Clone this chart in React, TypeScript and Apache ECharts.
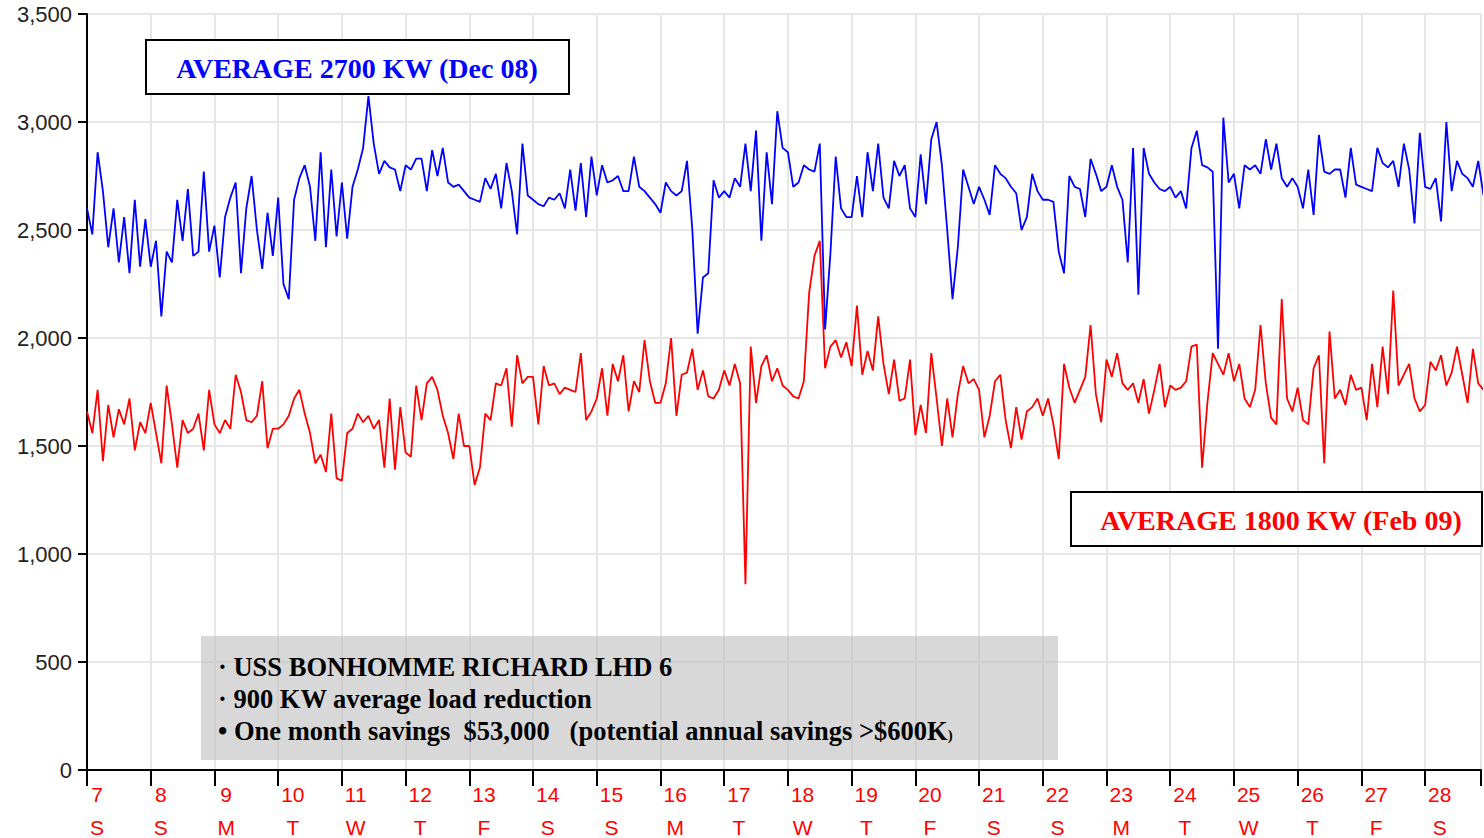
import React, { useEffect, useRef } from 'react';
import * as echarts from 'echarts';

// Day numbers on the x axis and their weekday letters
const days = [7, 8, 9, 10, 11, 12, 13, 14, 15, 16, 17, 18, 19, 20, 21, 22, 23, 24, 25, 26, 27, 28];
const weekdays = ['S', 'S', 'M', 'T', 'W', 'T', 'F', 'S', 'S', 'M', 'T', 'W', 'T', 'F', 'S', 'S', 'M', 'T', 'W', 'T', 'F', 'S'];
const yTicks = [0, 500, 1000, 1500, 2000, 2500, 3000, 3500];
const readingsPerDay = 12; // one reading every 2 hours

// Load in KW, December 2008 (blue), one row per day
const dec08Load = [
  2600, 2480, 2860, 2680, 2420, 2600, 2350, 2560, 2300, 2640, 2330, 2550,
  2330, 2450, 2100, 2400, 2350, 2640, 2450, 2690, 2380, 2400, 2770, 2400,
  2520, 2280, 2560, 2650, 2720, 2300, 2600, 2750, 2500, 2320, 2580, 2380,
  2650, 2250, 2180, 2640, 2740, 2800, 2700, 2450, 2860, 2420, 2780, 2470,
  2720, 2460, 2700, 2780, 2880, 3120, 2900, 2760, 2820, 2790, 2780, 2680,
  2800, 2780, 2830, 2830, 2680, 2870, 2750, 2880, 2720, 2700, 2710, 2680,
  2650, 2640, 2630, 2740, 2690, 2760, 2600, 2810, 2680, 2480, 2900, 2660,
  2640, 2620, 2610, 2650, 2640, 2670, 2600, 2780, 2590, 2810, 2560, 2840,
  2660, 2800, 2720, 2730, 2750, 2680, 2680, 2840, 2700, 2680, 2650, 2620,
  2580, 2720, 2680, 2660, 2680, 2820, 2500, 2020, 2280, 2300, 2730, 2650,
  2680, 2650, 2740, 2700, 2900, 2680, 2960, 2450, 2860, 2620, 3050, 2880,
  2860, 2700, 2720, 2800, 2780, 2770, 2900, 2040, 2390, 2840, 2600, 2560,
  2560, 2750, 2560, 2860, 2680, 2900, 2650, 2600, 2820, 2750, 2800, 2600,
  2560, 2850, 2620, 2920, 3000, 2800, 2500, 2180, 2420, 2780, 2700, 2620,
  2700, 2640, 2570, 2800, 2760, 2740, 2700, 2670, 2500, 2560, 2760, 2680,
  2640, 2640, 2630, 2400, 2300, 2750, 2700, 2690, 2560, 2830, 2760, 2680,
  2700, 2800, 2700, 2640, 2350, 2880, 2200, 2880, 2760, 2720, 2690, 2680,
  2700, 2650, 2680, 2600, 2880, 2960, 2800, 2790, 2770, 1950, 3020, 2720,
  2760, 2600, 2800, 2780, 2800, 2760, 2920, 2780, 2900, 2740, 2700, 2740,
  2700, 2600, 2780, 2570, 2940, 2770, 2760, 2780, 2780, 2650, 2880, 2710,
  2700, 2690, 2680, 2880, 2810, 2790, 2820, 2700, 2900, 2780, 2530, 2950,
  2700, 2690, 2740, 2540, 3000, 2680, 2820, 2760, 2740, 2700, 2820, 2660,
];

// Load in KW, February 2009 (red), one row per day
const feb09Load = [
  1660, 1560, 1760, 1430, 1690, 1540, 1670, 1600, 1720, 1480, 1610, 1560,
  1700, 1560, 1420, 1780, 1600, 1400, 1620, 1560, 1580, 1650, 1480, 1760,
  1600, 1560, 1620, 1580, 1830, 1750, 1620, 1610, 1640, 1800, 1490, 1580,
  1580, 1600, 1640, 1720, 1760, 1650, 1560, 1420, 1460, 1380, 1650, 1350,
  1340, 1560, 1580, 1650, 1610, 1640, 1580, 1620, 1400, 1720, 1390, 1680,
  1470, 1450, 1780, 1620, 1790, 1820, 1760, 1640, 1560, 1440, 1650, 1500,
  1500, 1320, 1400, 1650, 1620, 1790, 1780, 1860, 1590, 1920, 1790, 1820,
  1820, 1600, 1870, 1780, 1790, 1740, 1770, 1760, 1750, 1930, 1620, 1660,
  1720, 1860, 1640, 1880, 1800, 1920, 1660, 1800, 1750, 1990, 1800, 1700,
  1700, 1790, 2000, 1640, 1830, 1840, 1950, 1760, 1850, 1730, 1720, 1760,
  1850, 1780, 1880, 1790, 860, 1960, 1700, 1870, 1920, 1800, 1860, 1780,
  1760, 1730, 1720, 1800, 2210, 2380, 2450, 1860, 1960, 1990, 1910, 1980,
  1870, 2150, 1830, 1940, 1850, 2100, 1880, 1740, 1900, 1710, 1720, 1900,
  1550, 1690, 1560, 1930, 1720, 1500, 1720, 1540, 1740, 1870, 1790, 1810,
  1760, 1540, 1640, 1800, 1830, 1620, 1490, 1680, 1530, 1660, 1680, 1720,
  1640, 1720, 1600, 1440, 1880, 1770, 1700, 1760, 1820, 2060, 1740, 1610,
  1900, 1820, 1930, 1790, 1760, 1790, 1700, 1810, 1650, 1760, 1880, 1680,
  1780, 1760, 1770, 1800, 1960, 1970, 1400, 1700, 1930, 1880, 1830, 1930,
  1800, 1880, 1720, 1680, 1760, 2060, 1790, 1630, 1600, 2180, 1720, 1660,
  1770, 1620, 1600, 1860, 1920, 1420, 2030, 1720, 1760, 1690, 1830, 1760,
  1770, 1620, 1880, 1680, 1960, 1740, 2220, 1780, 1830, 1880, 1720, 1660,
  1690, 1890, 1850, 1920, 1780, 1840, 1960, 1830, 1700, 1950, 1790, 1760,
];

const infoLines = [
  '\u00B7 USS BONHOMME RICHARD LHD 6',
  '\u00B7 900 KW average load reduction',
  '\u2022 One month savings  $53,000   (potential annual savings >$600K',
];

function toPairs(values: number[]) {
  return values.map((v, i) => [days[0] + i / readingsPerDay, v]);
}

export default function App() {
  const ref = useRef<HTMLDivElement>(null);
  useEffect(() => {
    if (!ref.current) return;
    const chart = echarts.init(ref.current, undefined, { renderer: 'svg' });
    const serif = '"Liberation Serif", "Times New Roman", serif';
    const sans = '"Liberation Sans", Arial, sans-serif';
    const infoStyle = { fill: '#000', fontSize: 26.5, fontWeight: 'bold', fontFamily: serif, align: 'left', verticalAlign: 'middle' };
    chart.setOption({
      animation: false,
      backgroundColor: '#ffffff',
      grid: { left: 87, right: 0, top: 14, bottom: 68 },
      xAxis: {
        type: 'value',
        min: days[0],
        max: 28.877,
        interval: 1,
        axisLine: { lineStyle: { color: '#000', width: 2 } },
        axisTick: { show: true, length: 16, lineStyle: { color: '#000', width: 2 } },
        splitLine: { show: true, lineStyle: { color: '#e6e6e6', width: 2 } },
        axisLabel: {
          margin: 8,
          align: 'left',
          padding: [0, 0, 0, 3],
          formatter: (v: number) => {
            const idx = days.indexOf(Math.round(v * 1000) / 1000);
            if (idx < 0) return '';
            return `{n|${days[idx]}}\n{w|${weekdays[idx]}}`;
          },
          rich: {
            n: { fontSize: 21, fontFamily: sans, color: '#ff0000', lineHeight: 33, align: 'center' },
            w: { fontSize: 21, fontFamily: sans, color: '#ff0000', lineHeight: 33, align: 'center' },
          },
        },
      },
      yAxis: {
        type: 'value',
        min: yTicks[0],
        max: yTicks[yTicks.length - 1],
        interval: 500,
        axisLine: { show: true, lineStyle: { color: '#000', width: 2 } },
        axisTick: { show: true, length: 9, lineStyle: { color: '#000', width: 2 } },
        splitLine: { show: true, lineStyle: { color: '#e6e6e6', width: 2 } },
        axisLabel: {
          color: '#222',
          fontSize: 22,
          fontFamily: sans,
          margin: 15,
          padding: [12, 0, 0, 0],
          formatter: (v: number) => v.toLocaleString('en-US'),
        },
      },
      series: [
        {
          name: 'Dec 08',
          type: 'line',
          data: toPairs(dec08Load),
          showSymbol: false,
          lineStyle: { color: '#0000ff', width: 1.8 },
          itemStyle: { color: '#0000ff' },
          z: 3,
        },
        {
          name: 'Feb 09',
          type: 'line',
          data: toPairs(feb09Load),
          showSymbol: false,
          lineStyle: { color: '#ff0000', width: 1.8 },
          itemStyle: { color: '#ff0000' },
          z: 2,
        },
      ],
      graphic: [
        {
          type: 'rect',
          z: 100,
          shape: { x: 146, y: 40, width: 423, height: 54 },
          style: { fill: '#ffffff', stroke: '#000000', lineWidth: 2 },
        },
        {
          type: 'text',
          z: 101,
          x: 357,
          y: 68,
          style: {
            text: 'AVERAGE 2700 KW (Dec 08)',
            fill: '#0000ff',
            fontSize: 28,
            fontWeight: 'bold',
            fontFamily: serif,
            align: 'center',
            verticalAlign: 'middle',
          },
        },
        {
          type: 'rect',
          z: 100,
          shape: { x: 1071, y: 492, width: 411, height: 54 },
          style: { fill: '#ffffff', stroke: '#000000', lineWidth: 2 },
        },
        {
          type: 'text',
          z: 101,
          x: 1281,
          y: 520,
          style: {
            text: 'AVERAGE 1800 KW (Feb 09)',
            fill: '#ff0000',
            fontSize: 28,
            fontWeight: 'bold',
            fontFamily: serif,
            align: 'center',
            verticalAlign: 'middle',
          },
        },
        {
          type: 'rect',
          z: 100,
          shape: { x: 201, y: 636, width: 857, height: 124 },
          style: { fill: 'rgba(190,190,190,0.6)', stroke: 'none' },
        },
        {
          type: 'text',
          z: 101,
          x: 218,
          y: 667,
          style: { ...infoStyle, text: infoLines[0] },
        },
        {
          type: 'text',
          z: 101,
          x: 218,
          y: 699,
          style: { ...infoStyle, text: infoLines[1] },
        },
        {
          type: 'text',
          z: 101,
          x: 218,
          y: 731,
          style: {
            text: `{a|${infoLines[2]}}{b|)}`,
            align: 'left',
            verticalAlign: 'middle',
            rich: {
              a: { fill: '#000', fontSize: 26.5, fontWeight: 'bold', fontFamily: serif },
              b: { fill: '#000', fontSize: 15, fontWeight: 'bold', fontFamily: serif, padding: [8, 0, 0, 0] },
            },
          },
        },
      ],
    });
    return () => chart.dispose();
  }, []);
  return (
    <div
      ref={ref}
      style={{ position: 'fixed', left: 0, top: 0, width: 1484, height: 838, background: '#fff' }}
    />
  );
}
